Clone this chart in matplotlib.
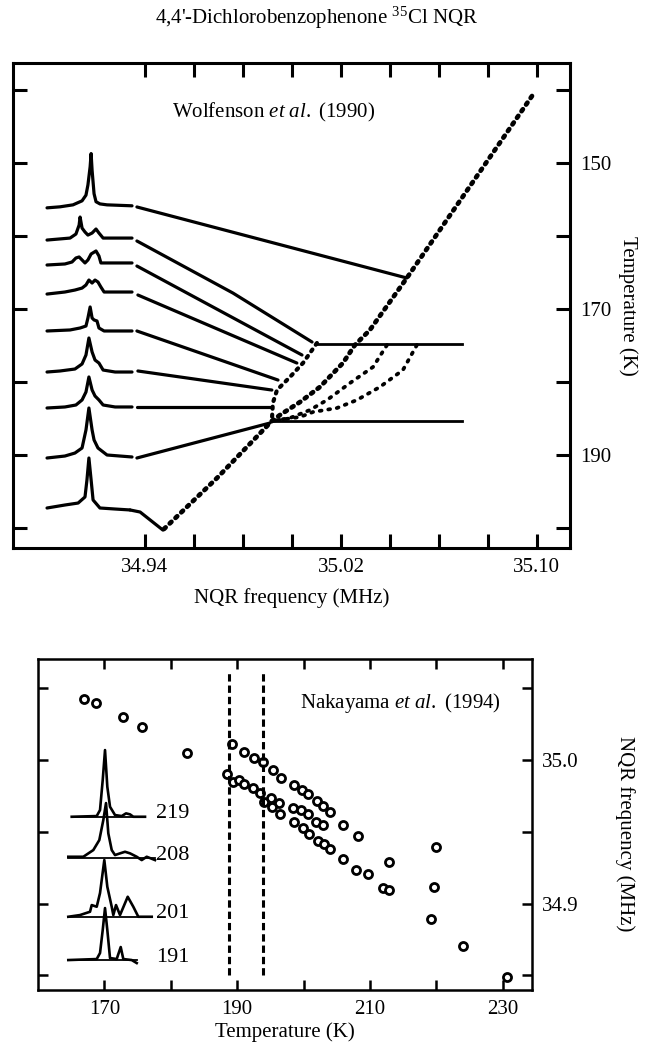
import numpy as np
import matplotlib
matplotlib.use('Agg')
import matplotlib.pyplot as plt

plt.rcParams['font.family'] = ['Liberation Serif', 'DejaVu Serif']
plt.rcParams['mathtext.fontset'] = 'custom'
plt.rcParams['mathtext.rm'] = 'Liberation Serif'
plt.rcParams['mathtext.it'] = 'Liberation Serif:italic'

# ---- top panel: Wolfenson et al. (1990), spectra stacked by temperature ----
trace_base_k = [156.0, 160.55, 163.83, 167.81, 173.01, 178.63, 183.56, 190.41, 197.26]

spec_freq = [
    [34.900, 34.9053, 34.9106, 34.9143, 34.9159, 34.9167, 34.9176, 34.9180, 34.9184, 34.9192, 34.9200, 34.9216, 34.9245, 34.9347],
    [34.900, 34.9094, 34.9118, 34.9131, 34.9135, 34.9143, 34.9155, 34.9167, 34.9184, 34.9200, 34.9212, 34.9229, 34.9278, 34.9347],
    [34.900, 34.9073, 34.9102, 34.9118, 34.9131, 34.9143, 34.9155, 34.9167, 34.9180, 34.9200, 34.9212, 34.9220, 34.9278, 34.9347],
    [34.900, 34.9073, 34.9114, 34.9143, 34.9159, 34.9171, 34.9184, 34.9196, 34.9208, 34.9220, 34.9233, 34.9278, 34.9347],
    [34.900, 34.9094, 34.9135, 34.9159, 34.9167, 34.9176, 34.9184, 34.9192, 34.9204, 34.9212, 34.9233, 34.9278, 34.9347],
    [34.900, 34.9053, 34.9114, 34.9143, 34.9159, 34.9171, 34.9184, 34.9196, 34.9212, 34.9229, 34.9278, 34.9347],
    [34.900, 34.9073, 34.9118, 34.9143, 34.9159, 34.9171, 34.9184, 34.9196, 34.9212, 34.9229, 34.9278, 34.9347],
    [34.900, 34.9073, 34.9114, 34.9143, 34.9159, 34.9171, 34.9184, 34.9192, 34.9208, 34.9245, 34.9298, 34.9347],
    [34.900, 34.9073, 34.9127, 34.9155, 34.9163, 34.9171, 34.9180, 34.9188, 34.9216, 34.9278, 34.9339],
]
spec_signal = [
    [-0.14, 0.0, 0.27, 0.82, 1.6, 3.0, 5.5, 7.3, 5.0, 1.8, 0.7, 0.4, 0.27, 0.14],
    [0.0, 0.27, 0.82, 2.05, 3.15, 1.64, 1.10, 0.68, 0.96, 1.51, 0.96, 0.27, 0.27, 0.27],
    [-0.14, 0.0, 0.27, 0.82, 0.96, 0.55, 0.14, 0.55, 1.37, 1.78, 1.10, 0.14, 0.14, 0.14],
    [-0.14, 0.14, 0.41, 0.68, 1.10, 1.78, 1.37, 1.78, 1.51, 0.82, 0.14, 0.14, 0.14],
    [0.0, 0.14, 0.41, 0.68, 1.78, 3.29, 1.78, 1.51, 1.37, 0.41, 0.0, 0.0, 0.0],
    [0.0, 0.14, 0.41, 1.10, 2.33, 4.66, 2.74, 1.64, 1.23, 0.27, 0.0, 0.0],
    [0.0, 0.14, 0.41, 1.10, 2.19, 4.25, 2.47, 1.64, 1.10, 0.41, 0.14, 0.14],
    [0.0, 0.27, 0.68, 1.37, 3.84, 6.85, 3.84, 2.47, 1.37, 0.41, 0.27, 0.14],
    [0.0, 0.41, 0.68, 1.51, 3.84, 6.85, 3.84, 1.10, 0.0, -0.14, -0.27],
]

# connecting lines from each spectrum to the frequency-temperature curve
link_freq = [
    [34.9367, 35.0469],
    [34.9367, 34.9759, 35.0082],
    [34.9367, 35.0041],
    [34.9371, 35.0020],
    [34.9367, 34.9943],
    [34.9371, 34.9918],
    [34.9367, 34.9910],
    [34.9367, 34.9910],
    [34.9339, 34.9380, 34.9473],
]
link_temp = [
    [156.02, 165.75],
    [160.68, 167.81, 174.52],
    [164.11, 176.30],
    [168.08, 177.40],
    [173.01, 179.73],
    [178.49, 181.10],
    [183.42, 183.42],
    [190.41, 185.62],
    [197.53, 197.81, 200.28],
]

# dotted frequency-temperature curves
main_freq = [35.0980, 35.0469, 35.0318, 35.0257, 35.0208, 35.0114, 35.0033, 34.9951, 34.9918, 34.9694, 34.9473]
main_temp = [140.82, 165.75, 172.88, 174.93, 177.40, 180.68, 182.74, 184.52, 185.34, 193.15, 200.28]
branch2_freq = [35.0102, 35.0045, 34.9992, 34.9939, 34.9922, 34.9918]
branch2_temp = [174.66, 177.40, 179.31, 181.10, 182.88, 185.34]
branch3_freq = [35.0388, 35.0331, 35.0237, 35.0143, 35.0073, 34.9992, 34.9918]
branch3_temp = [174.93, 177.94, 180.14, 182.47, 183.84, 184.93, 185.34]
branch4_freq = [35.0510, 35.0453, 35.0359, 35.0265, 35.0184, 35.0086, 35.0033, 34.9918]
branch4_temp = [174.93, 178.36, 180.68, 182.47, 183.56, 184.11, 184.79, 185.34]

plateau_freq = [[35.0102, 35.0694], [34.9918, 35.0694]]
plateau_temp = [[174.8, 174.8], [185.4, 185.4]]

# ---- bottom panel: Nakayama et al. (1994) ----
upper_t = [166.99, 168.75, 172.76, 175.68, 182.45, 189.17, 191.08, 192.48, 193.84, 195.35, 196.61,
           198.51, 199.71, 200.62, 202.03, 202.88, 203.93, 205.89, 208.15, 212.92, 219.95, 219.70]
upper_f = [35.0423, 35.0395, 35.0298, 35.0228, 35.0051, 35.0109, 35.0058, 35.0012, 34.9988, 34.9930, 34.9872,
           34.9826, 34.9791, 34.9761, 34.9714, 34.9681, 34.9638, 34.9547, 34.9470, 34.9291, 34.9396, 34.9113]
middle_t = [188.48, 189.32, 190.33, 191.08, 192.33, 193.49, 195.11, 196.36, 198.36, 199.62, 200.62, 201.88, 202.88]
middle_f = [34.9900, 34.9849, 34.9861, 34.9831, 34.9807, 34.9768, 34.9733, 34.9698, 34.9668, 34.9651, 34.9622,
            34.9566, 34.9547]
lower_t = [193.99, 195.20, 196.51, 198.51, 199.86, 200.87, 202.12, 203.13, 204.04, 205.89, 207.91, 209.65,
           211.91, 212.92, 219.20, 223.96, 230.59]
lower_f = [34.9705, 34.9674, 34.9622, 34.9566, 34.9524, 34.9482, 34.9435, 34.9412, 34.9380, 34.9310, 34.9233,
           34.9205, 34.9106, 34.9094, 34.8890, 34.8704, 34.8490]

transition_t = [188.8, 193.9]
transition_f_range = (34.850, 35.061)

# inset spectra (arbitrary channel / intensity units), labelled by temperature
inset_labels = ['219', '208', '201', '191']
inset_x = [
    [11.7, 36.7, 40.0, 42.7, 45.0, 47.3, 50.0, 55.0, 61.7, 66.0, 70.0, 73.3, 85.0],
    [8.3, 23.3, 33.3, 39.3, 43.3, 46.0, 48.3, 51.7, 55.0, 60.0, 65.0, 70.0, 76.7, 81.7, 86.7, 95.0],
    [8.3, 20.0, 30.0, 31.7, 36.7, 40.0, 44.3, 47.3, 51.7, 53.3, 56.0, 60.0, 67.7, 73.3, 78.3, 91.7],
    [8.3, 36.7, 40.0, 42.7, 45.0, 47.3, 50.0, 56.7, 58.0, 60.7, 63.3, 71.7, 76.7],
]
inset_y = [
    [158.3, 159.0, 165.0, 195.0, 225.0, 188.3, 168.3, 160.0, 159.0, 161.7, 160.7, 158.3, 158.3],
    [118.3, 118.3, 125.0, 135.0, 155.0, 172.0, 141.7, 125.0, 120.0, 121.7, 123.3, 121.7, 118.3, 115.0, 118.3, 115.0],
    [58.3, 60.0, 63.3, 70.0, 68.3, 82.0, 115.0, 88.3, 68.3, 60.0, 70.0, 60.0, 78.3, 68.3, 58.3, 58.3],
    [15.0, 16.0, 22.0, 45.0, 67.0, 45.0, 17.0, 16.0, 20.0, 28.0, 16.0, 15.0, 12.0],
]
inset_base = [158.3, 116.7, 58.3, 15.0]

fig = plt.figure(figsize=(6.49, 10.47), dpi=100)
ax1 = fig.add_axes([0.0200, 0.4766, 0.8582, 0.4632])
ax2 = fig.add_axes([0.0586, 0.0544, 0.7612, 0.3161])

# top panel
for base, fr, sig in zip(trace_base_k, spec_freq, spec_signal):
    ax1.plot(fr, base - np.array(sig), color='black', lw=2.3, solid_capstyle='round')
for fr, tp in zip(link_freq, link_temp):
    ax1.plot(fr, tp, color='black', lw=2.3, solid_capstyle='round')
for fr, tp in zip(plateau_freq, plateau_temp):
    ax1.plot(fr, tp, color='black', lw=2.0)

ax1.plot(main_freq, main_temp, color='black', lw=3.4, ls=(0, (0.5, 1.2)), dash_capstyle='round')
ax1.plot(branch2_freq, branch2_temp, color='black', lw=3.0, ls=(0, (0.5, 1.4)), dash_capstyle='round')
ax1.plot(branch3_freq, branch3_temp, color='black', lw=2.7, ls=(0, (0.5, 1.8)), dash_capstyle='round')
ax1.plot(branch4_freq, branch4_temp, color='black', lw=2.7, ls=(0, (0.5, 1.8)), dash_capstyle='round')

ax1.set_xlim(34.8861, 35.1135)
ax1.set_ylim(202.74, 136.3)
xt = np.round(np.arange(34.94, 35.101, 0.02), 2)
ax1.set_xticks(xt)
ax1.set_xticklabels(['34.94', '', '', '', '35.02', '', '', '', '35.10'])
yt = np.arange(140, 201, 10)
ax1.set_yticks(yt)
ax1.set_yticklabels(['', '150', '', '170', '', '190', ''])
ax1.tick_params(direction='in', length=10, width=2.2, top=True, right=True,
                labelleft=False, labelright=True, labelsize=15, pad=7)
for s in ax1.spines.values():
    s.set_linewidth(2.2)
ax1.set_xlabel('NQR frequency (MHz)', fontsize=15)
ax1.xaxis.set_label_coords(0.5, -0.103)
ax1.xaxis.label.set_verticalalignment('center')
ax1.yaxis.set_label_position('right')
ax1.set_ylabel('Temperature (K)', fontsize=15, rotation=-90, va='center')
ax1.yaxis.set_label_coords(1.104, 0.5)
ax1.text(0.2855, 0.897, r'Wolfenson $\mathit{et\ al.}$ (1990)', transform=ax1.transAxes,
         fontsize=15, ha='left', va='center')

fig.text(0.488, 0.9828, r"4,4'-Dichlorobenzophenone $^{35}$Cl NQR", fontsize=15,
         ha='center', va='center')

# bottom panel
for t, f in [(upper_t, upper_f), (middle_t, middle_f), (lower_t, lower_f)]:
    ax2.plot(t, f, ls='none', marker='o', ms=5.8, mfc='white', mec='black', mew=2.0)
ax2.vlines(transition_t, *transition_f_range, colors='black', lw=2.2, linestyles=(0, (2.4, 1.3)))

ax2.set_xlim(160, 234.4)
ax2.set_ylim(34.8397, 35.0704)
ax2.set_xticks(np.arange(170, 231, 10))
ax2.set_xticklabels(['170', '', '190', '', '210', '', '230'])
ax2.set_yticks([34.85, 34.90, 34.95, 35.00, 35.05])
ax2.set_yticklabels(['', '34.9', '', '35.0', ''])
ax2.tick_params(direction='in', length=7, width=1.8, top=True, right=True,
                labelleft=False, labelright=True, labelsize=15, pad=7)
for s in ax2.spines.values():
    s.set_linewidth(1.8)
ax2.set_xlabel('Temperature (K)', fontsize=15)
ax2.xaxis.set_label_coords(0.5, -0.127)
ax2.xaxis.label.set_verticalalignment('center')
ax2.yaxis.set_label_position('right')
ax2.set_ylabel('NQR frequency (MHz)', fontsize=15, rotation=-90, va='center')
ax2.yaxis.set_label_coords(1.188, 0.471)
ax2.text(0.530, 0.867, r'Nakayama $\mathit{et\ al.}$ (1994)', transform=ax2.transAxes,
         fontsize=15, ha='left', va='center')

axin = ax2.inset_axes([0.0445, 0.0453, 0.2834, 0.71])
axin.set_xlim(0, 140)
axin.set_ylim(0, 235)
axin.axis('off')
for lab, xs, ys, b in zip(inset_labels, inset_x, inset_y, inset_base):
    axin.plot(xs, ys, color='black', lw=1.9)
    axin.plot([xs[0], xs[-1]], [b, b], color='black', lw=1.3)
    axin.text(113, b + 3, lab, fontsize=16, ha='center', va='center')

fig.savefig('out.png', dpi=100)
